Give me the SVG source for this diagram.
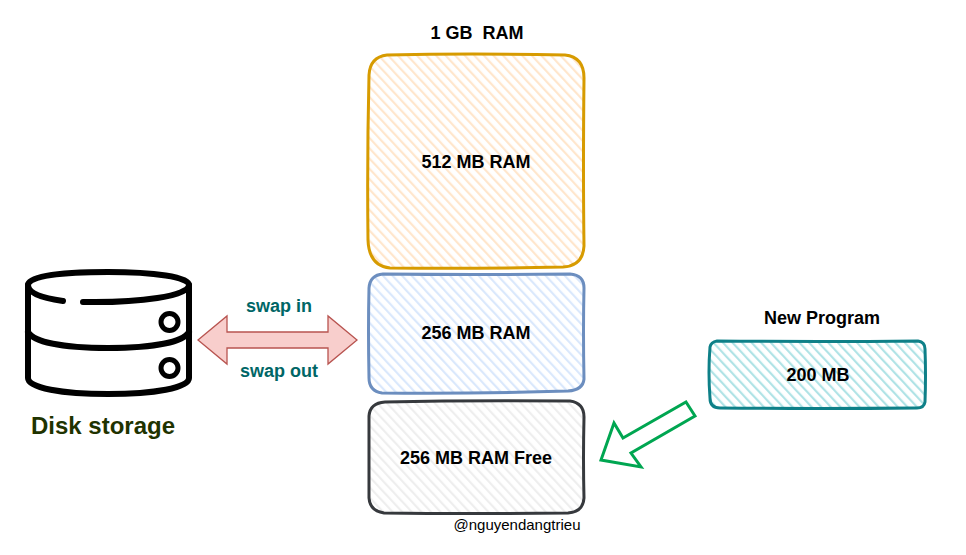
<svg xmlns="http://www.w3.org/2000/svg" width="966" height="555" viewBox="0 0 966 555">
<style>
text{font-family:"Liberation Sans",Arial,sans-serif;font-weight:bold;font-size:18px;fill:#000;text-anchor:middle}
.box{stroke-width:3;stroke-linejoin:round;stroke-linecap:round}
.swap{fill:#006666}
.ink{fill:none;stroke:#000;stroke-width:6;stroke-linecap:round}
</style>
<defs>
<pattern id="hO" width="7" height="6" patternUnits="userSpaceOnUse" patternTransform="rotate(-43)"><rect x="0" width="2.200" height="6" fill="#ffe6cc"/></pattern>
<pattern id="hB" width="7" height="6" patternUnits="userSpaceOnUse" patternTransform="rotate(-43)"><rect x="0" width="2.200" height="6" fill="#dae8fc"/></pattern>
<pattern id="hG" width="7" height="6" patternUnits="userSpaceOnUse" patternTransform="rotate(-43)"><rect x="0" width="2.200" height="6" fill="#eeeeee"/></pattern>
<pattern id="hT" width="7" height="6" patternUnits="userSpaceOnUse" patternTransform="rotate(-43)"><rect x="0" width="2.200" height="6" fill="#b0e3e6"/></pattern>
</defs>
<rect width="966" height="555" fill="#fff"/>
<g id="connectors">
<path id="swap-arrow" d="M198 340L227 316V332H328V316L357 340L328 364V348H227V364Z" fill="#f8cecc" stroke="#b85450" stroke-width="1.3"/>
<path id="new-arrow" d="M686 402L695 416L631 453L641 467L601 460L614 423L623 438Z" fill="#fff" stroke="#00a651" stroke-width="3"/>
</g>
<g id="ram-512">
<path class="box" fill="url(#hO)" stroke="#d79b00" d="M387 55Q470 53 565 55Q584 57 584 78Q583 170 584 246Q583 266 563 267Q470 269 390 268Q369 266 368 240Q367 160 369 75Q370 57 387 55Z"/>
<text x="476" y="168">512 MB RAM</text>
</g>
<g id="ram-256">
<path class="box" fill="url(#hB)" stroke="#6c8ebf" d="M383 274Q470 275 570 274Q584 275 584 288Q583 330 584 379Q583 390 568 391Q470 394 382 393Q369 391 369 378Q368 330 369 288Q370 275 383 274Z"/>
<text x="476" y="339">256 MB RAM</text>
</g>
<g id="ram-free">
<path class="box" fill="url(#hG)" stroke="#36393d" d="M385 402Q470 400 570 401Q584 403 584 417Q583 460 584 498Q583 512 568 513Q470 514 384 513Q370 511 369 498Q369 450 369 416Q370 403 385 402Z"/>
<text x="476" y="464">256 MB RAM Free</text>
<text x="517" y="530" style="font-weight:normal;font-size:15px">@nguyendangtrieu</text>
</g>
<g id="new-program">
<path class="box" fill="url(#hT)" stroke="#0e8088" d="M717 341Q820 342 918 341Q925 342 925 349Q926 375 925 402Q924 408 917 408Q820 409 720 408Q710 408 710 398Q708 372 710 347Q711 342 717 341Z"/>
<text x="818" y="381">200 MB</text>
<text x="822" y="324">New Program</text>
</g>
<g id="title"><text x="477" y="39">1 GB&#160; RAM</text></g>
<g id="disk">
<path class="ink" d="M63 301C41 298 28 293 28 285C28 276 62 272 108 272C154 272 189 277 189 285C189 296 140 303 83 302"/>
<path class="ink" d="M28 285V378C28 388 62 394 108 394C154 394 189 388 189 378V285"/>
<path class="ink" d="M28 332C34 342 62 348 108 348C154 348 183 342 189 332"/>
<circle cx="169.500" cy="322" r="8.500" fill="none" stroke="#000" stroke-width="5"/>
<circle cx="169.500" cy="368" r="8.500" fill="none" stroke="#000" stroke-width="5"/>
<text x="103" y="434" style="font-size:24px;fill:#1f3300">Disk storage</text>
</g>
<g id="labels">
<text class="swap" x="279" y="312">swap in</text>
<text class="swap" x="279" y="377">swap out</text>
</g>
</svg>
